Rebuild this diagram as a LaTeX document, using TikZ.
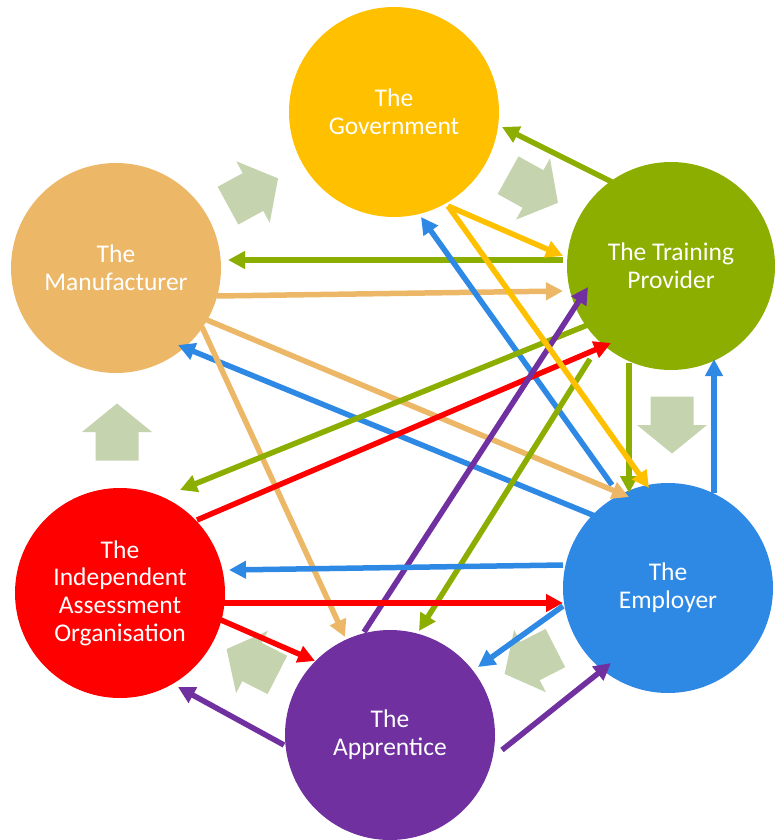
\documentclass[tikz,border=0pt]{standalone}
\usepackage{fontspec}
\setmainfont{Carlito}
\usetikzlibrary{arrows.meta}
\definecolor{govc}{HTML}{FFC000}
\definecolor{tpc}{HTML}{8CAE00}
\definecolor{manc}{HTML}{ECB868}
\definecolor{iaoc}{HTML}{FF0000}
\definecolor{empc}{HTML}{2E89E5}
\definecolor{appc}{HTML}{7030A0}
\definecolor{blockc}{HTML}{C5D3AE}
\newcommand\cyclearrow[3]{\fill[flow, shift={(#1,#2)}, rotate=#3] (-28.5,-21.5) -- (0,-21.5) -- (0,-35) -- (28.5,0) -- (0,35) -- (0,21.5) -- (-28.5,21.5) -- cycle;}
\begin{document}
\begin{tikzpicture}[x=1pt,y=-1pt,
  actor/.style={circle, minimum size=210pt, inner sep=0pt, text=white, align=center,
    font=\fontsize{25.5}{27.7}\selectfont},
  link/.style={line width=5.5pt, -{Triangle[length=17pt,width=17pt]}},
  flow/.style={fill=blockc}]
\useasboundingbox (0,0) rectangle (774,840);

% cycle block arrows
\cyclearrow{253}{192}{28.6}
\cyclearrow{533}{189}{-29}
\cyclearrow{672}{425}{-90}
\cyclearrow{530}{661}{-153}
\cyclearrow{252}{662}{153}
\cyclearrow{117}{432}{90}

% actors
\node[actor, fill=govc] (gov) at (394,112) {The\\Government};
\node[actor, fill=tpc, minimum size=208pt] (tp) at (671,266) {The Training\\Provider};
\node[actor, fill=manc] (man) at (116,268) {The\\Manufacturer};
\node[actor, fill=iaoc] (iao) at (120,593) {The\\Independent\\Assessment\\Organisation};
\node[actor, fill=empc] (emp) at (668,588) {The\\Employer};
\node[actor, fill=appc] (app) at (390,735) {The\\Apprentice};

% connectors
\draw[link, tpc] ([shift={(-59,-84)}]tp.center) -- ([shift={(108,15)}]gov.center);
\draw[link, tpc] ([shift={(-108,-6)}]tp.center) -- ([shift={(112,-8)}]man.center);
\draw[link, manc] ([shift={(101,28)}]man.center) -- ([shift={(-108,25)}]tp.center);
\draw[link, empc] ([shift={(-56,-103)}]emp.center) -- ([shift={(27,105)}]gov.center);
\draw[link, manc] ([shift={(91,52)}]man.center) -- ([shift={(-39,-91)}]emp.center);
\draw[link, empc] ([shift={(-73,-72)}]emp.center) -- ([shift={(62,77)}]man.center);
\draw[link, manc] ([shift={(86,59)}]man.center) -- ([shift={(-45,-98)}]app.center);
\draw[link, tpc] ([shift={(-81,58)}]tp.center) -- ([shift={(60,-103)}]iao.center);
\draw[link, iaoc] ([shift={(77,-73)}]iao.center) -- ([shift={(-60,77)}]tp.center);
\draw[link, appc] ([shift={(-26,-103)}]app.center) -- ([shift={(-83,21)}]tp.center);
\draw[link, tpc] ([shift={(-81,93)}]tp.center) -- ([shift={(29,-104)}]app.center);
\draw[link, tpc] ([shift={(-42,97)}]tp.center) -- ([shift={(-39,-95)}]emp.center);
\draw[link, empc] ([shift={(46,-95)}]emp.center) -- ([shift={(43,93)}]tp.center);
\draw[link, govc] ([shift={(54,94)}]gov.center) -- ([shift={(-108,-10)}]tp.center);
\draw[link, govc] ([shift={(54,94)}]gov.center) -- ([shift={(-19,-100)}]emp.center);
\draw[link, empc] ([shift={(-105,-23)}]emp.center) -- ([shift={(109,-23)}]iao.center);
\draw[link, iaoc] ([shift={(102,10)}]iao.center) -- ([shift={(-105,15)}]emp.center);
\draw[link, iaoc] ([shift={(101,27)}]iao.center) -- ([shift={(-75,-74)}]app.center);
\draw[link, empc] ([shift={(-105,18)}]emp.center) -- ([shift={(88,-68)}]app.center);
\draw[link, appc] ([shift={(112,15)}]app.center) -- ([shift={(-57,75)}]emp.center);
\draw[link, appc] ([shift={(-106,10)}]app.center) -- ([shift={(58,94)}]iao.center);
\end{tikzpicture}
\end{document}
